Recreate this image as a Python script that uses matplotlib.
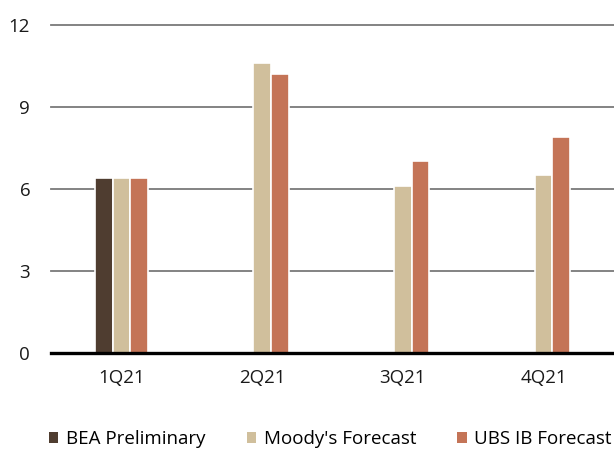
import matplotlib
matplotlib.use("Agg")
import matplotlib.pyplot as plt
import numpy as np
from matplotlib.patches import Patch

quarters = ["1Q21", "2Q21", "3Q21", "4Q21"]
bea_preliminary = [6.4, np.nan, np.nan, np.nan]
moodys_forecast = [6.4, 10.6, 6.1, 6.5]
ubs_forecast = [6.4, 10.2, 7.0, 7.9]
y_ticks = [0, 3, 6, 9, 12]

series = [
    ("BEA Preliminary", bea_preliminary, "#4f3d30"),
    ("Moody's Forecast", moodys_forecast, "#d0bf9c"),
    ("UBS IB Forecast", ubs_forecast, "#c47457"),
]

plt.rcParams["font.family"] = ["Open Sans", "DejaVu Sans"]

fig = plt.figure(figsize=(6.14, 4.53), dpi=100)
ax = fig.add_axes([51 / 614, 1 - 352.7 / 453, 1 - 51 / 614, (352.7 - 24.5) / 453])

x = np.arange(len(quarters))
width = 0.126
offsets = [-width, 0, width]

for y in y_ticks[1:]:
    ax.axhline(y, color="#7a7a7a", lw=1.3, zorder=1, clip_on=False)

for (name, vals, color), off in zip(series, offsets):
    ax.bar(x + off, vals, width=width, color=color, edgecolor="white",
           linewidth=1.2, zorder=2, label=name)

ax.axhline(0, color="black", lw=2.4, zorder=3, clip_on=False)

ax.set_xlim(-0.5, 3.5)
ax.set_ylim(0, 12)
ax.set_xticks(x)
ax.set_xticklabels(quarters)
ax.set_yticks(y_ticks)
ax.tick_params(axis="both", length=0, labelsize=13.5, colors="#1a1a1a")
ax.tick_params(axis="y", pad=15)
ax.tick_params(axis="x", pad=12)
for s in ax.spines.values():
    s.set_visible(False)

handles = [Patch(facecolor=c, edgecolor="none", label=n) for n, _, c in series]
fig.legend(handles=handles, loc="center left", bbox_to_anchor=(49 / 614, 1 - 439 / 453),
           ncol=3, frameon=False, fontsize=13.5, handlelength=0.5, handleheight=0.5,
           handletextpad=0.4, columnspacing=2.2, borderaxespad=0, borderpad=0)

fig.savefig("out.png", dpi=100)
